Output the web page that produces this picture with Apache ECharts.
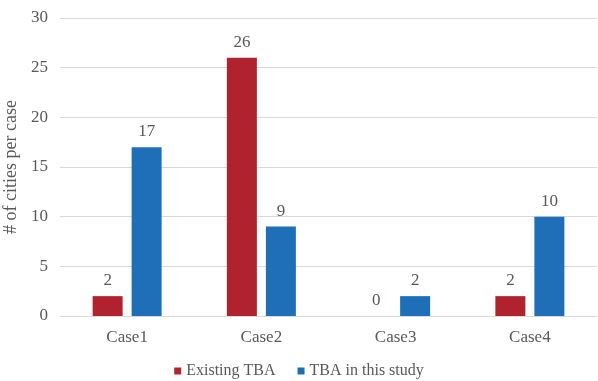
<!DOCTYPE html>
<html>
<head>
<meta charset="utf-8">
<script src="https://cdn.jsdelivr.net/npm/echarts@6/dist/echarts.min.js"></script>
<style>
  html, body { margin: 0; padding: 0; background: #fff; }
  #chart { width: 598px; height: 381px; }
</style>
</head>
<body>
<div id="chart"></div>
<script>
const categories = ['Case1', 'Case2', 'Case3', 'Case4'];
const existingTBA = [2, 26, 0, 2];
const studyTBA = [17, 9, 2, 10];
const yTicks = [0, 5, 10, 15, 20, 25, 30];

const font = '"Liberation Serif", "Times New Roman", serif';
const grey = '#595959';

let myChart = echarts.init(document.getElementById('chart'));

function barLabel() {
  return { show: true, position: 'top', distance: 7, color: grey, fontFamily: font, fontSize: 17 };
}

var option = {
  animation: false,
  textStyle: { fontFamily: font },
  grid: { left: 60, right: 1, top: 18, bottom: 65, outerBoundsMode: 'none', containLabel: false },
  legend: {
    bottom: 2,
    left: 'center',
    padding: 0,
    itemWidth: 7,
    itemHeight: 7,
    itemGap: 22,
    icon: 'rect',
    textStyle: { color: grey, fontFamily: font, fontSize: 16 },
    data: ['Existing TBA', 'TBA in this study']
  },
  xAxis: {
    type: 'category',
    data: categories,
    axisLine: { show: true, lineStyle: { color: '#d9d9d9' } },
    axisTick: { show: false },
    axisLabel: { color: grey, fontFamily: font, fontSize: 17, margin: 13 }
  },
  yAxis: {
    type: 'value',
    min: yTicks[0],
    max: yTicks[yTicks.length - 1],
    interval: 5,
    name: '# of cities per case',
    nameLocation: 'middle',
    nameGap: 34,
    nameTextStyle: { color: grey, fontFamily: font, fontSize: 18 },
    axisLine: { show: false },
    axisTick: { show: false },
    axisLabel: { color: grey, fontFamily: font, fontSize: 17, margin: 12 },
    splitLine: { lineStyle: { color: '#d9d9d9' } }
  },
  series: [{
    name: 'Existing TBA',
    type: 'bar',
    data: existingTBA,
    barWidth: 30,
    barGap: '30%',
    itemStyle: { color: '#b0232e' },
    label: barLabel()
  }, {
    name: 'TBA in this study',
    type: 'bar',
    data: studyTBA,
    barWidth: 30,
    itemStyle: { color: '#1f6fb8' },
    label: barLabel()
  }]
};
myChart.setOption(option);
</script>
</body>
</html>
